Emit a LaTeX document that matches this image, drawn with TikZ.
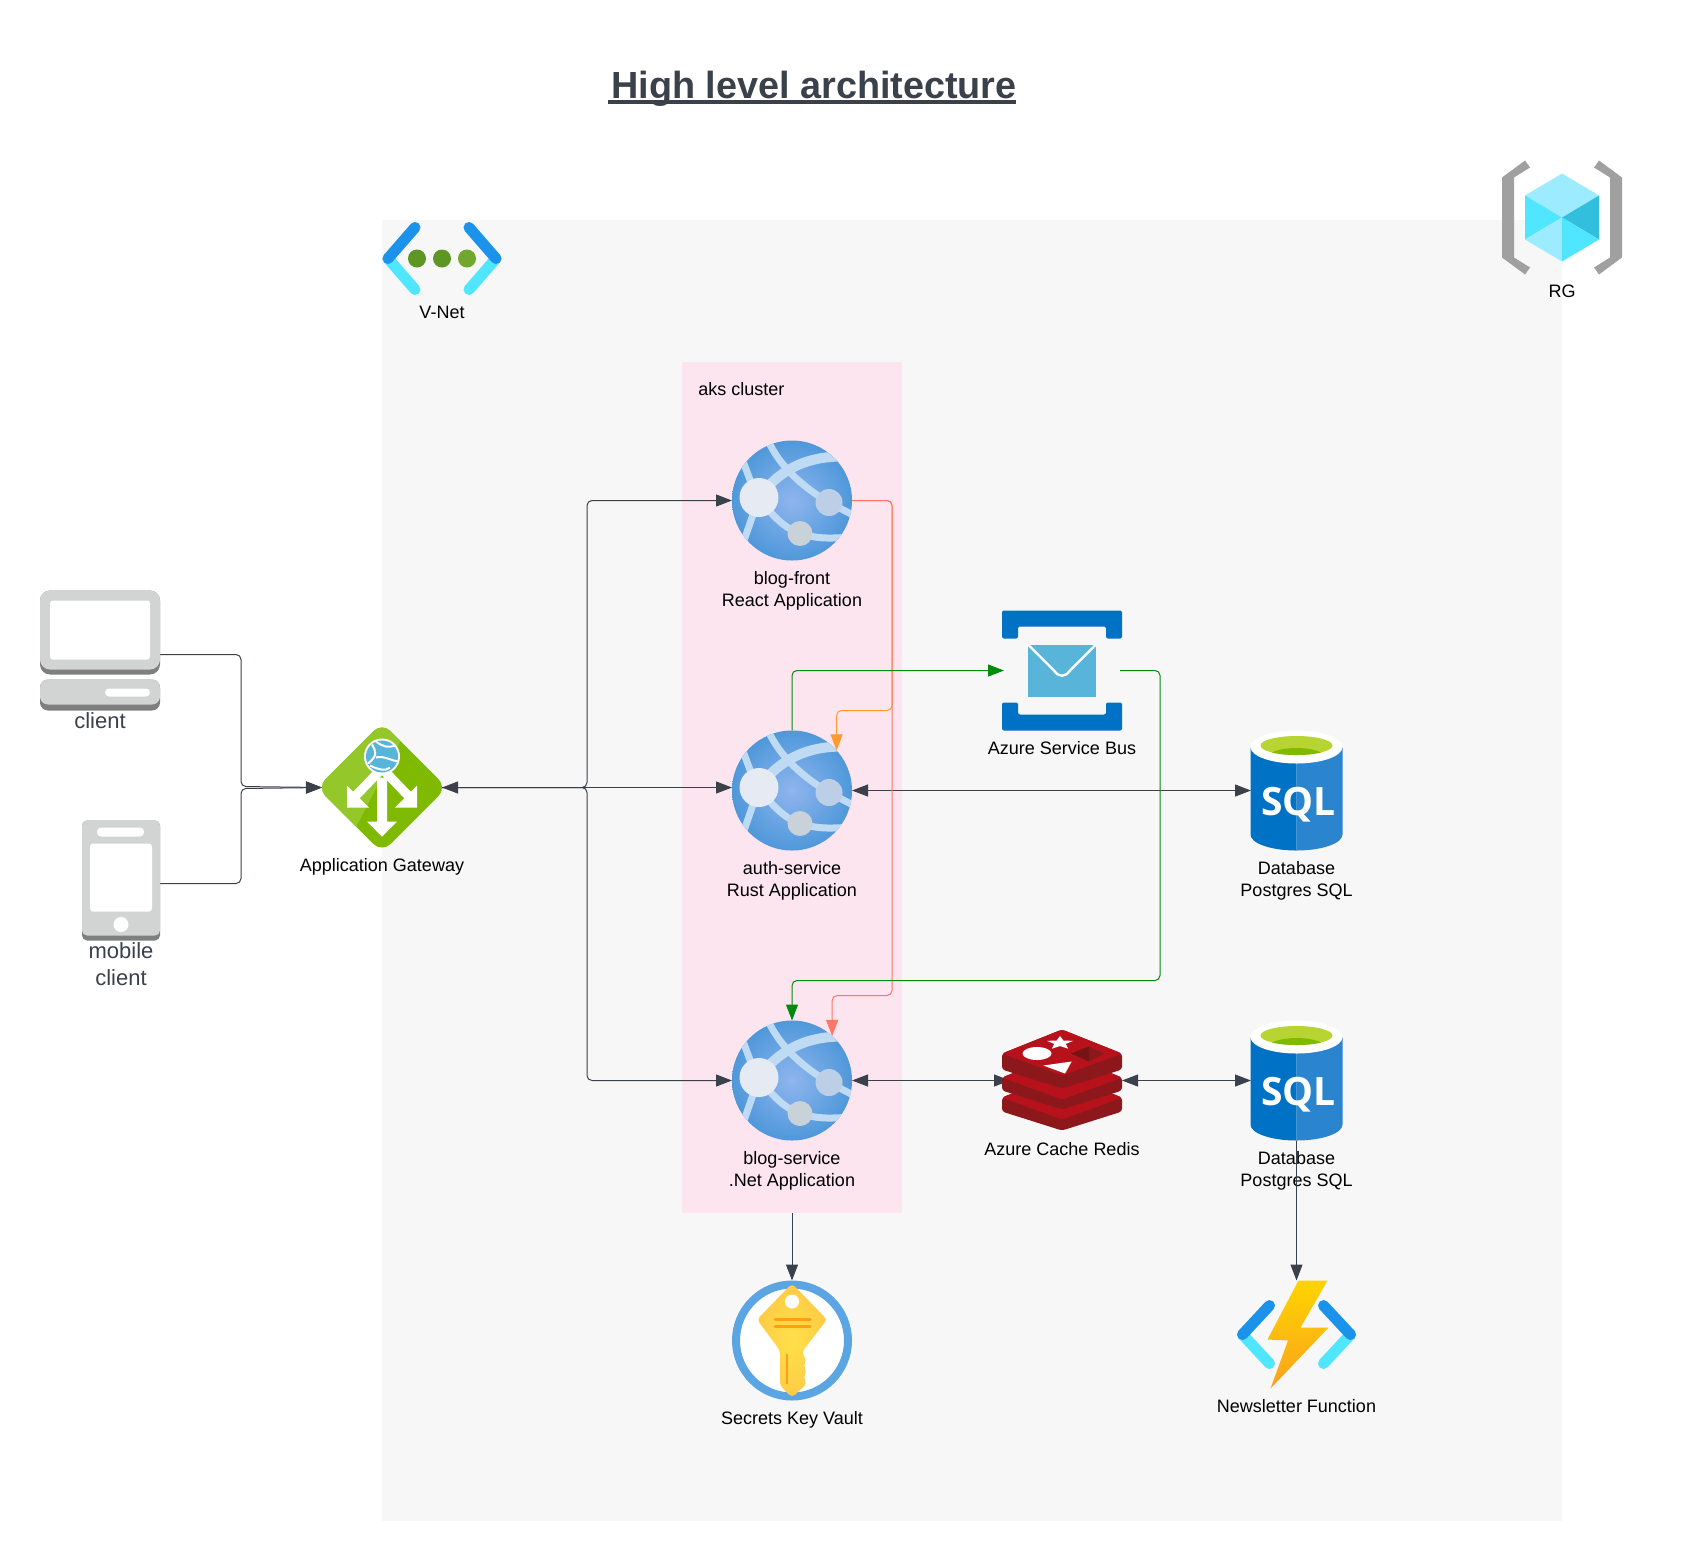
\documentclass[tikz,border=0pt]{standalone}
\usepackage{fontspec}
\setmainfont{Liberation Sans}
\newfontfamily\sqlfont{Open Sans}
\usetikzlibrary{positioning,arrows.meta,calc}

\definecolor{inkgrey}{HTML}{3A414A}
\definecolor{panelgrey}{HTML}{F7F7F7}
\definecolor{akspink}{HTML}{FCE5EE}
\definecolor{linkgreen}{HTML}{008A0E}
\definecolor{linkred}{HTML}{FF7568}
\definecolor{linkorange}{HTML}{FF9A2E}
\definecolor{devlight}{HTML}{D2D3D3}
\definecolor{devdark}{HTML}{7F7F7F}
\definecolor{azblue}{HTML}{0072C6}
\definecolor{azsky}{HTML}{59B4D9}
\definecolor{azgreen}{HTML}{7FBA00}
\definecolor{chevblue}{HTML}{1B93EB}
\definecolor{chevcyan}{HTML}{50E6FF}
\definecolor{redistop}{HTML}{B7121B}
\definecolor{redisside}{HTML}{8C181C}
\definecolor{redisdeep}{HTML}{731415}
\definecolor{globein}{HTML}{8FB5EE}
\definecolor{globeout}{HTML}{4F98DA}
\definecolor{bandblue}{HTML}{BFDAF3}
\definecolor{nodebig}{HTML}{E6EBF3}
\definecolor{noderight}{HTML}{BCCFE6}
\definecolor{nodelow}{HTML}{C9D1D9}
\definecolor{gatelight}{HTML}{94C72A}
\definecolor{sqlright}{HTML}{2A85CE}
\definecolor{sqlgreen}{HTML}{B8D432}
\definecolor{keyring}{HTML}{5BA5E3}
\definecolor{keyedge}{HTML}{FFCB45}
\definecolor{keymid}{HTML}{FFE04A}
\definecolor{keybar}{HTML}{FF9F12}
\definecolor{bolttop}{HTML}{FFD400}
\definecolor{boltlow}{HTML}{FAA21D}
\definecolor{dotdark}{HTML}{5E9624}
\definecolor{dotlight}{HTML}{6FA82C}
\definecolor{rggrey}{HTML}{A0A0A0}
\definecolor{cubepale}{HTML}{9CEBFF}
\definecolor{cubedark}{HTML}{32BEDD}

\newcommand{\titlerule}{\rlap{\kern-1.5pt\rule[-3.2pt]{204pt}{2.3pt}}}

\tikzset{
  panel/.style={rectangle, inner sep=0pt, outer sep=0pt},
  globe/.style={circle, inner sep=0pt, outer sep=0pt, minimum size=60pt},
  iconbox/.style={rectangle, inner sep=0pt, outer sep=0pt, minimum width=#1},
  lbl/.style={align=center, font=\fontsize{9pt}{10.8pt}\selectfont, text=black, inner sep=0pt},
  devlbl/.style={align=center, font=\fontsize{11pt}{13.2pt}\selectfont, text=inkgrey, inner sep=0pt},
  link/.style={draw=inkgrey, line width=0.5pt, rounded corners=2.5pt},
  tip/.style={-{Triangle[length=8pt,width=6pt]}},
  twotip/.style={{Triangle[length=8pt,width=6pt]}-{Triangle[length=8pt,width=6pt]}},
  greenlink/.style={link, tip, draw=linkgreen},
  redlink/.style={link, tip, draw=linkred},
  orangelink/.style={link, tip, draw=linkorange},
  webapp/.pic={
    \shade[inner color=globein, outer color=globeout] (0,0) circle (60);
    \begin{scope}
      \clip (0,0) circle (60);
      \draw[bandblue, line width=3.5pt] (-24,-60) .. controls (-12,-34) and (10,-14) .. (37,2) -- (60,14);
      \draw[bandblue, line width=5pt] (-33,-3) .. controls (-12,-32) and (16,-44) .. (50,-44);
      \draw[bandblue, line width=3.5pt] (-33,-3) -- (-48,40);
      \draw[bandblue, line width=3.5pt] (-50,-42) -- (-38,-10);
      \draw[bandblue, line width=3.5pt] (-33,-3) .. controls (-18,18) and (-6,28) .. (8,33) .. controls (24,38) and (36,38) .. (52,37);
    \end{scope}
    \fill[nodebig] (-33,-3) circle (19.5);
    \fill[noderight] (37,2) circle (13.5);
    \fill[nodelow] (8,33) circle (12.5);
  },
  gatewayicon/.pic={
    \begin{scope}
      \clip[rounded corners=6pt] (0,-65) -- (65,0) -- (0,65) -- (-65,0) -- cycle;
      \fill[azgreen] (-65,-65) rectangle (65,65);
      \fill[gatelight] (-65,-65) -- (28,-65) -- (-39,65) -- (-65,65) -- cycle;
    \end{scope}
    \fill[white] (-35,-2) -- (-13,20) -- (-35,20) -- cycle;
    \fill[white] (35,-2) -- (13,20) -- (35,20) -- cycle;
    \draw[white, line width=4.6pt] (-3,-16) -- (-26,8);
    \draw[white, line width=4.6pt] (3,-16) -- (26,8);
    \fill[white] (-5,-10) -- (5,-10) -- (5,34) -- (15,34) -- (0,49) -- (-15,34) -- (-5,34) -- cycle;
    \fill[white] (0,-31) circle (18);
    \fill[azsky] (0,-31) circle (16);
    \draw[white, line width=1pt] (-10,-43) .. controls (-6,-36) and (-4,-32) .. (-14,-24);
    \draw[white, line width=1pt] (-6,-46) .. controls (2,-40) and (6,-40) .. (14,-42);
    \draw[white, line width=1pt] (-6,-30) .. controls (2,-32) and (6,-28) .. (16,-26);
    \draw[white, line width=1pt] (-12,-22) .. controls (-4,-18) and (4,-16) .. (8,-20);
  },
  busicon/.pic={
    \fill[azblue, rounded corners=1pt] (-60,-60) -- (60,-60) -- (60,-32) -- (44,-32) -- (44,-44) -- (-44,-44) -- (-44,-32) -- (-60,-32) -- cycle;
    \fill[azblue, rounded corners=1pt] (-60,60) -- (60,60) -- (60,32) -- (44,32) -- (44,44) -- (-44,44) -- (-44,32) -- (-60,32) -- cycle;
    \fill[azsky] (-34,-26) rectangle (34,26);
    \draw[white, line width=1.2pt] (-34,-26) -- (-8,0) .. controls (-3,7) and (3,7) .. (8,0) -- (34,-26);
  },
  sqldb/.pic={
    \fill[azblue] (-46,-43) -- (0,-43) -- (0,60) .. controls (-25,60) and (-46,53) .. (-46,44) -- cycle;
    \fill[sqlright] (46,-43) -- (0,-43) -- (0,60) .. controls (25,60) and (46,53) .. (46,44) -- cycle;
    \fill[white] (0,-43.5) ellipse (46 and 16.5);
    \fill[sqlgreen] (0,-45) ellipse (36 and 9.5);
    \begin{scope}
      \clip (0,-45) ellipse (36 and 9.5);
      \fill[azgreen] (0,-32) ellipse (30 and 10.5);
    \end{scope}
    \node (sqltext) [text=white, inner sep=0pt, anchor=base, font=\sqlfont\bfseries\fontsize{19.5pt}{20pt}\selectfont] at (2,25) {SQL};
  },
  redisicon/.pic={
    \foreach \dy/\th in {44/11,24/10,0/13}{
      \fill[redisside, rounded corners=1.5pt] (-60,-27+\dy) -- (0,-51+\dy) -- (60,-27+\dy) -- (60,-24+\dy+\th) -- (0,-5+\dy+\th) -- (-60,-24+\dy+\th) -- cycle;
      \fill[redistop, rounded corners=1.5pt] (-60,-27+\dy) -- (0,-51+\dy) -- (60,-27+\dy) -- (0,-5+\dy) -- cycle;
    }
    \fill[white] (-2,-44.5) -- (1.5,-39.9) -- (11.3,-39.7) -- (3.7,-36.6) -- (6.2,-31.8) -- (-2,-34.5) -- (-10.2,-31.8) -- (-7.7,-36.6) -- (-15.3,-39.7) -- (-5.5,-39.9) -- cycle;
    \fill[white] (-25,-27) ellipse (14.5 and 6.5);
    \fill[white] (-18.7,-15) -- (9.7,-19) -- (3,-7) -- cycle;
    \fill[redisside] (27,-34) -- (43,-27) -- (27,-19) -- cycle;
    \fill[redisdeep] (27,-34) -- (9,-27) -- (27,-19) -- cycle;
  },
  keyicon/.pic={
    \fill[white] (0,0) circle (56);
    \draw[keyring, line width=4pt] (0,0) circle (56);
    \shade[inner color=keymid, outer color=keyedge, rounded corners=2pt] (0,-57) -- (35,-21) -- (11,10) -- (10,14) -- (15,19) -- (11,25) -- (15,31) -- (11,37) -- (15,43) -- (0,57) -- (-12,45) -- (-12,10) -- (-35,-21) -- cycle;
    \fill[white] (0,-39) circle (7);
    \draw[keybar, line width=1.5pt, line cap=round] (-17,-21) -- (18,-21);
    \draw[keybar, line width=1.5pt, line cap=round] (-17,-14) -- (18,-14);
    \draw[keybar, line width=1pt, line cap=round] (-5,14) -- (-5,43);
  },
  brackets/.pic={
    \draw[chevcyan, line width=5.5pt, line cap=round] (-54,0) -- (-27,#1);
    \draw[chevcyan, line width=5.5pt, line cap=round] (54,0) -- (27,#1);
    \draw[chevblue, line width=5.5pt, line cap=round] (-54,0) -- (-27,-#1);
    \draw[chevblue, line width=5.5pt, line cap=round] (54,0) -- (27,-#1);
  },
  bolticon/.pic={
    \shade[top color=bolttop, bottom color=boltlow] (2,-54) -- (31,-54) -- (4,-7) -- (32,-7) -- (-26,54) -- (-8.5,6) -- (-29,5) -- cycle;
  },
  vneticon/.pic={
    \fill[dotdark] (-25,0) circle (9);
    \fill[dotdark] (0,0) circle (9);
    \fill[dotlight] (25,0) circle (9);
  },
  rgicon/.pic={
    \fill[rggrey] (-37,-57) -- (-32,-50) -- (-48,-40) -- (-48,40) -- (-32,50) -- (-37,57) -- (-60,40) -- (-60,-40) -- cycle;
    \fill[rggrey] (37,-57) -- (32,-50) -- (48,-40) -- (48,40) -- (32,50) -- (37,57) -- (60,40) -- (60,-40) -- cycle;
    \fill[cubepale] (0,-44) -- (37,-22) -- (0,0) -- (-37,-22) -- cycle;
    \fill[chevcyan] (-37,-22) -- (0,0) -- (-37,22) -- cycle;
    \fill[cubedark] (37,-22) -- (0,0) -- (37,22) -- cycle;
    \fill[cubepale] (-37,22) -- (0,0) -- (0,44) -- cycle;
    \fill[chevcyan] (37,22) -- (0,0) -- (0,44) -- cycle;
  },
  desktop/.pic={
    \fill[devdark, rounded corners=5pt] (-60,-64) rectangle (60,20);
    \fill[devlight, rounded corners=5pt] (-60,-64) rectangle (60,15);
    \fill[white, rounded corners=1.5pt] (-50,-54) rectangle (50,5);
    \fill[devdark, rounded corners=4pt] (-60,25) rectangle (60,56);
    \fill[devlight, rounded corners=4pt] (-60,25) rectangle (60,50);
    \fill[white, rounded corners=2pt] (5,34) rectangle (50,42);
  },
  phone/.pic={
    \fill[devdark, rounded corners=2.5pt] (-39,-63) rectangle (39,57);
    \fill[devlight, rounded corners=2.5pt] (-39,-63) rectangle (39,52);
    \fill[white, rounded corners=2pt] (-24,-56) rectangle (23,-47);
    \fill[white, rounded corners=1.5pt] (-31,-40) rectangle (31,28);
    \fill[white] (0,41) circle (7.5);
  },
}

\begin{document}
\begin{tikzpicture}[x=0.5pt, y=-0.5pt, node distance=85pt]

  \useasboundingbox (0,-0.5) rectangle (1692,1559.5);

  \node (rgpanel) [panel, fill=panelgrey, minimum width=590pt, minimum height=650.5pt] at (972,870) {};
  \node (aks) [panel, fill=akspink, minimum width=110pt, minimum height=425.5pt] at (792,787) {};
  \node (akstext) [lbl, anchor=west] at (698,389) {aks cluster};

  \node (title) [inner sep=0pt, anchor=base, text=inkgrey, font=\bfseries\fontsize{18.9pt}{22pt}\selectfont] at (814,97.5) {\titlerule High level architecture};

  \node (front) [globe] at (792,500) {};
  \node (auth) [globe, below=of front] {};
  \node (svc) [globe, below=of auth] {};
  \node (bus) [iconbox=60pt, minimum height=60pt] at (1062,670) {};
  \node (redis) [iconbox=60pt, minimum height=51pt, right=75pt of svc] {};
  \node (dbauth) [iconbox=45.5pt, minimum height=60pt, right=199.5pt of auth] {};
  \node (dbsvc) [iconbox=45.5pt, minimum height=60pt, right=64.5pt of redis] {};
  \node (vault) [globe, below=70pt of svc] {};
  \node (func) [iconbox=60pt, minimum height=54pt, below=70pt of dbsvc] {};
  \node (gateway) [iconbox=60pt, minimum height=60pt] at (382,787) {};
  \node (client) [iconbox=60pt, minimum height=56pt] at (100,654) {};
  \node (mobile) [iconbox=39pt, minimum height=57pt] at (121,883) {};
  \node (vnet) [iconbox=60pt, minimum height=36pt] at (442,258) {};
  \node (rg) [iconbox=60pt, minimum height=57pt] at (1562,217) {};

  \node (frontlabel) [lbl, below=5.5pt of front] {blog-front\\React Application};
  \node (authlabel) [lbl, below=5.5pt of auth] {auth-service\\Rust Application};
  \node (svclabel) [lbl, below=5.5pt of svc] {blog-service\\.Net Application};
  \node (buslabel) [lbl, below=5.5pt of bus] {Azure Service Bus};
  \node (redislabel) [lbl, below=5.5pt of redis] {Azure Cache Redis};
  \node (dbauthlabel) [lbl, below=5.5pt of dbauth] {Database\\Postgres SQL};
  \node (dbsvclabel) [lbl, below=5.5pt of dbsvc] {Database\\Postgres SQL};
  \node (vaultlabel) [lbl, below=5.5pt of vault] {Secrets Key Vault};
  \node (funclabel) [lbl, below=5.5pt of func] {Newsletter Function};
  \node (gatewaylabel) [lbl, below=5.5pt of gateway] {Application Gateway};
  \node (clientlabel) [devlbl, below=1pt of client] {client};
  \node (mobilelabel) [devlbl, below=1pt of mobile] {mobile\\client};
  \node (vnetlabel) [lbl, below=5.5pt of vnet] {V-Net};
  \node (rglabel) [lbl, below=5pt of rg] {RG};

  \coordinate (joinclient) at (241,786);
  \coordinate (joinmobile) at (241,788);
  \coordinate (fork) at (587,640);
  \coordinate (bendorange) at (892,710);
  \coordinate (bendred) at (892,995);
  \coordinate (bendgreen) at (1160,980);

  \draw [link, tip] (client.east) -| (joinclient) -- (gateway.west);
  \draw [link, tip] (mobile.east) -| (joinmobile) -- (gateway.west);
  \draw [link, tip] (gateway.east) -- (gateway.east -| fork) |- (front.west);
  \draw [link, twotip] (gateway.east) -- (gateway.east -| auth.west);
  \draw [link, tip] (gateway.east) -- (gateway.east -| fork) |- (svc.west);
  \draw [link, twotip] (auth.east) -- (dbauth.west);
  \draw [link, twotip] (svc.east) -- ($(redis.west)+(8,0)$);
  \draw [link, twotip] (redis.east) -- (dbsvc.west);
  \draw [link, tip] (aks.south) -- (vault.north);
  \draw [link, tip] (dbsvc.south) -- (func.north);

  \draw [orangelink] (front.east) -| (bendorange) -| (auth.42);
  \draw [redlink] (front.east) -| (bendred) -| (svc.48);
  \draw [greenlink] (auth.north) |- ($(bus.west)+(2,0)$);
  \draw [greenlink] ($(bus.east)+(-2,0)$) -| (bendgreen) -| (svc.north);

  \pic at (front) {webapp};
  \pic at (auth) {webapp};
  \pic at (svc) {webapp};
  \pic at (bus) {busicon};
  \pic at (redis) {redisicon};
  \pic (dbauthpic) at (dbauth) {sqldb};
  \pic (dbsvcpic) at (dbsvc) {sqldb};
  \pic at (vault) {keyicon};
  \pic at (func) {brackets={29}};
  \pic at (func) {bolticon};
  \pic at (gateway) {gatewayicon};
  \pic at (client) {desktop};
  \pic at (mobile) {phone};
  \pic at (vnet) {brackets={31}};
  \pic at (vnet) {vneticon};
  \pic at (rg) {rgicon};

\end{tikzpicture}
\end{document}
